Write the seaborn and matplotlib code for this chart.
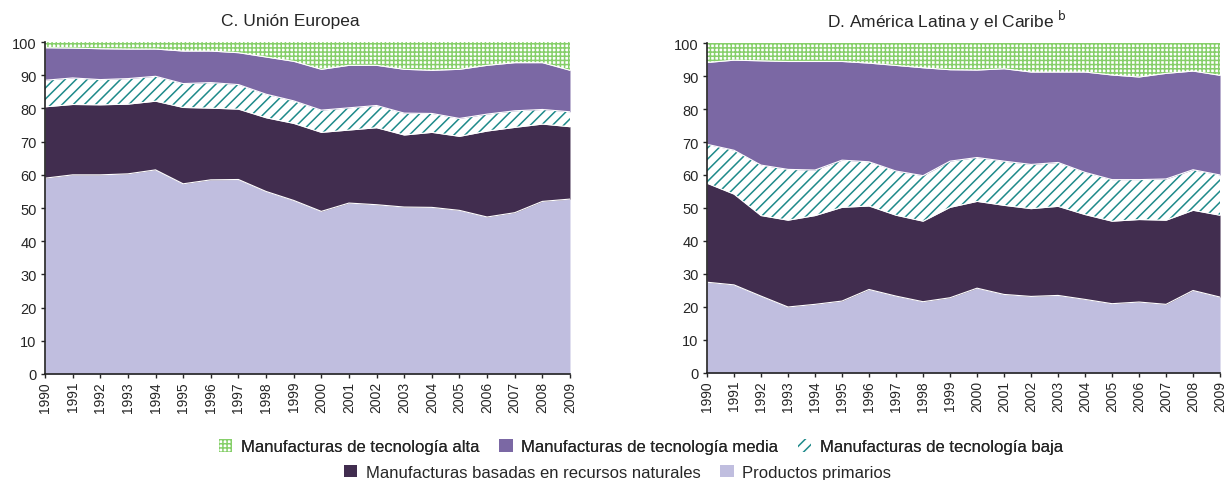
import seaborn as sns
import matplotlib.pyplot as plt
import pandas as pd
from matplotlib.patches import Patch

years = list(range(1990, 2010))

# Unión Europea - cumulative upper bounds of each layer
ue_primarios = [59.0, 60.0, 60.0, 60.3, 61.5, 57.3, 58.5, 58.6, 55.0, 52.3,
                49.0, 51.5, 51.0, 50.3, 50.2, 49.3, 47.3, 48.6, 52.0, 52.7]
ue_recursos = [80.5, 81.2, 81.1, 81.3, 82.2, 80.3, 80.1, 79.8, 77.2, 75.5,
               72.8, 73.5, 74.2, 72.0, 72.8, 71.6, 73.2, 74.3, 75.3, 74.5]
ue_baja = [88.5, 89.2, 88.7, 89.0, 89.7, 87.5, 87.8, 87.2, 84.3, 82.3,
           79.5, 80.2, 80.9, 78.6, 78.5, 77.0, 78.3, 79.3, 79.7, 79.0]
ue_media = [98.3, 98.2, 98.0, 97.9, 97.9, 97.3, 97.3, 96.8, 95.5, 94.2,
            91.8, 93.0, 93.0, 91.8, 91.5, 91.8, 93.0, 93.8, 93.8, 91.5]

# América Latina y el Caribe
al_primarios = [27.5, 26.7, 23.3, 20.0, 20.8, 21.8, 25.3, 23.3, 21.6, 22.8,
                25.7, 23.8, 23.2, 23.5, 22.3, 21.0, 21.5, 20.8, 25.0, 23.0]
al_recursos = [57.5, 54.2, 47.7, 46.3, 47.7, 50.2, 50.6, 47.8, 46.0, 50.2,
               52.0, 50.8, 49.8, 50.5, 48.0, 46.0, 46.5, 46.3, 49.3, 47.8]
al_baja = [69.3, 67.5, 63.0, 61.7, 61.5, 64.5, 64.0, 61.2, 59.8, 64.2,
           65.3, 64.2, 63.2, 63.8, 60.8, 58.6, 58.6, 58.8, 61.6, 60.0]
al_media = [94.1, 94.8, 94.6, 94.4, 94.4, 94.4, 93.9, 93.2, 92.5, 91.9,
            91.8, 92.2, 91.2, 91.2, 91.2, 90.3, 89.7, 90.8, 91.5, 90.2]

labels = ["Manufacturas de tecnología alta", "Manufacturas de tecnología media",
          "Manufacturas de tecnología baja", "Manufacturas basadas en recursos naturales",
          "Productos primarios"]

sns.set_style("white")
plt.rcParams['font.family'] = ['Liberation Sans', 'DejaVu Sans']
plt.rcParams['hatch.linewidth'] = 1.1

c_prim = "#c0bedf"
c_rec = "#412d4f"
c_baja = "#1e8a8a"
c_media = "#7b68a4"
c_alta = "#86cf6a"

fig = plt.figure(figsize=(12.3, 4.81), dpi=100)
ax1 = fig.add_axes([0.0366, 0.2204, 0.4268, 0.690])
ax2 = fig.add_axes([0.5748, 0.2225, 0.4171, 0.686])


def draw(ax, prim, rec, baja, media, title):
    top = [100] * len(years)
    zero = [0] * len(years)
    ax.fill_between(years, zero, prim, facecolor=c_prim, linewidth=0)
    ax.fill_between(years, prim, rec, facecolor=c_rec, linewidth=0)
    ax.fill_between(years, rec, baja, facecolor="white", edgecolor=c_baja,
                    hatch="///", linewidth=0)
    ax.fill_between(years, baja, media, facecolor=c_media, linewidth=0)
    ax.fill_between(years, media, top, facecolor="white", edgecolor=c_alta,
                    hatch="++++", linewidth=0)
    df = pd.DataFrame({"year": years, "prim": prim, "rec": rec,
                       "baja": baja, "media": media})
    for col in ["prim", "rec", "baja", "media"]:
        sns.lineplot(data=df, x="year", y=col, ax=ax, color="white",
                     linewidth=0.8)
    ax.set_xlim(1990, 2009)
    ax.set_ylim(0, 100)
    ax.set_xticks(years)
    ax.set_xticklabels([str(y) for y in years], rotation=90, fontsize=10)
    ax.set_yticks(range(0, 101, 10))
    ax.tick_params(axis="y", labelsize=10.5, length=3, width=1, pad=3, left=True)
    ax.tick_params(axis="x", length=3, width=1, bottom=True, pad=2)
    ax.set_xlabel("")
    ax.set_ylabel("")
    for s in ["top", "right"]:
        ax.spines[s].set_visible(False)
    for s in ["left", "bottom"]:
        ax.spines[s].set_color("#222222")
        ax.spines[s].set_linewidth(1.2)
    # title centred over axes + tick labels
    ax.set_title(title, fontsize=12.5, pad=12, x=0.467)


draw(ax1, ue_primarios, ue_recursos, ue_baja, ue_media, "C. Unión Europea")
draw(ax2, al_primarios, al_recursos, al_baja, al_media,
     "D. América Latina y el Caribe $^{\\mathrm{b}}$")

h = [Patch(facecolor="white", edgecolor=c_alta, hatch="++++", linewidth=0),
     Patch(facecolor=c_media, linewidth=0),
     Patch(facecolor="white", edgecolor=c_baja, hatch="///", linewidth=0),
     Patch(facecolor=c_rec, linewidth=0),
     Patch(facecolor=c_prim, linewidth=0)]

leg1 = fig.legend(h[:3], labels[:3], loc="center", bbox_to_anchor=(0.521, 0.069),
                  ncol=3, frameon=False, fontsize=12, handlelength=0.8,
                  handleheight=0.8, handletextpad=0.5, columnspacing=1.2)
fig.add_artist(leg1)
fig.legend(h[3:], labels[3:], loc="center", bbox_to_anchor=(0.502, 0.016),
           ncol=2, frameon=False, fontsize=12, handlelength=0.8,
           handleheight=0.8, handletextpad=0.5, columnspacing=1.2)

plt.savefig("out.png", dpi=100)
plt.close()
